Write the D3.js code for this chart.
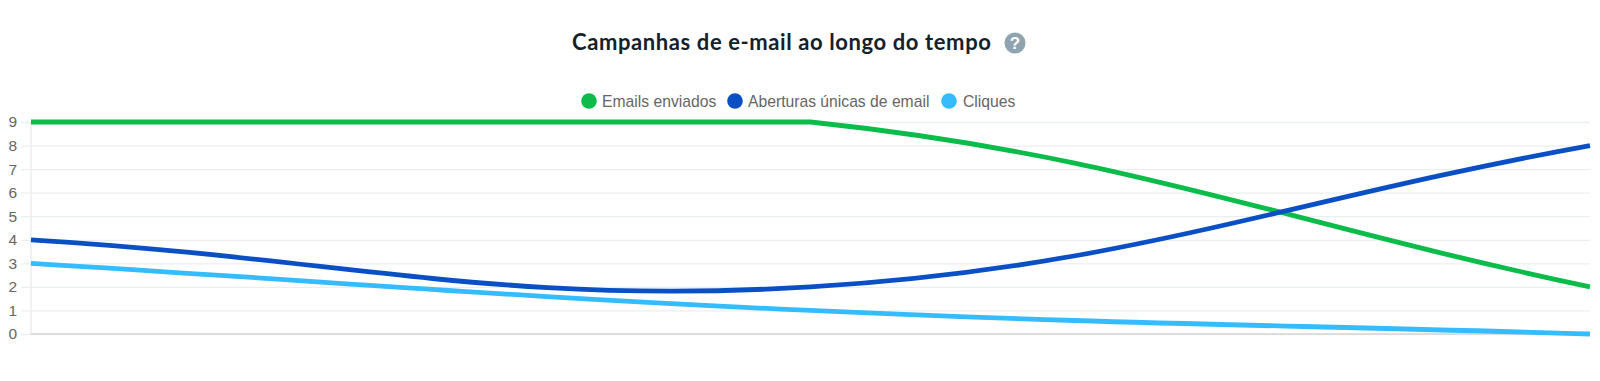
<!DOCTYPE html>
<html lang="pt">
<head>
<meta charset="utf-8">
<title>Campanhas de e-mail ao longo do tempo</title>
<script src="https://cdn.jsdelivr.net/npm/d3@7/dist/d3.min.js"></script>
<style>
  html, body { margin: 0; padding: 0; background: #fff; overflow: hidden; }
  svg { display: block; }
</style>
</head>
<body>
<div id="container"></div>
<script>
// The reference hides its x labels, so the periods only serve as positions
const periods = [ 'inicio', 'meio', 'fim' ];
const yTicks = [ 0, 1, 2, 3, 4, 5, 6, 7, 8, 9 ];

const seriesNames = [ 'Emails enviados', 'Aberturas únicas de email', 'Cliques' ];
const emailsSent = [ 9, 9, 2 ];
const uniqueOpens = [ 4, 2, 8 ];
const clicks = [ 3, 1, 0 ];
const seriesValues = [ emailsSent, uniqueOpens, clicks ];
const seriesColors = [ '#0cbc4b', '#0a50c4', '#35bcff' ];

const titleText = 'Campanhas de e-mail ao longo do tempo';

//_____ LAYOUT _____
const width = 1600;
const height = 381;
const plot = { left: 31, right: 1590, top: 122, bottom: 334 };
const legendY = 101;
const legendItems = [ { dot: 589, label: 602 }, { dot: 735, label: 748 }, { dot: 949, label: 963 } ];
const tension = 0.4;

const svg = d3.select( '#container' )
  .append( 'svg' )
  .attr( 'width', width )
  .attr( 'height', height );

//_____ SCALES _____
const xScale = d3.scalePoint()
  .domain( periods )
  .range( [ plot.left, plot.right ] );

const yScale = d3.scaleLinear()
  .domain( [ 0, 9 ] )
  .range( [ plot.bottom, plot.top ] );

//_____ CURVE _____
// Spline with its control points held inside the plot area, this gives the
// flat green stretch and the kink at the middle point
function clampedSpline ( context ) {
  let points = [];
  const clampX = x => Math.min( plot.right, Math.max( plot.left, x ) );
  const clampY = y => Math.min( plot.bottom, Math.max( plot.top, y ) );
  return {
    lineStart () { points = []; },
    point ( x, y ) { points.push( [ +x, +y ] ); },
    lineEnd () {
      const controls = points.map( ( p, i ) => {
        const prev = points[ i - 1 ] || p;
        const next = points[ i + 1 ] || p;
        const d01 = Math.hypot( p[ 0 ] - prev[ 0 ], p[ 1 ] - prev[ 1 ] );
        const d12 = Math.hypot( next[ 0 ] - p[ 0 ], next[ 1 ] - p[ 1 ] );
        const total = d01 + d12 || 1;
        const fa = tension * d01 / total;
        const fb = tension * d12 / total;
        const dx = next[ 0 ] - prev[ 0 ];
        const dy = next[ 1 ] - prev[ 1 ];
        return {
          before: [ clampX( p[ 0 ] - fa * dx ), clampY( p[ 1 ] - fa * dy ) ],
          after: [ clampX( p[ 0 ] + fb * dx ), clampY( p[ 1 ] + fb * dy ) ]
        };
      } );
      points.forEach( ( p, i ) => {
        if ( i === 0 ) {
          context.moveTo( p[ 0 ], p[ 1 ] );
        } else {
          const c1 = controls[ i - 1 ].after;
          const c2 = controls[ i ].before;
          context.bezierCurveTo( c1[ 0 ], c1[ 1 ], c2[ 0 ], c2[ 1 ], p[ 0 ], p[ 1 ] );
        }
      } );
    }
  };
}

//_____ GRID AND AXES _____
const yAxis = d3.axisLeft( yScale )
  .tickValues( yTicks )
  .tickSize( plot.right - plot.left + 10 )
  .tickPadding( 4 )
  .tickFormat( d3.format( 'd' ) );

const yAxisGroup = svg.append( 'g' )
  .attr( 'transform', `translate( ${plot.right}, 0 )` )
  .call( yAxis );

yAxisGroup.select( '.domain' ).remove();
yAxisGroup.selectAll( '.tick line' )
  .attr( 'stroke', '#ecefef' )
  .attr( 'stroke-width', 1.3 );
yAxisGroup.selectAll( '.tick text' )
  .attr( 'fill', '#666' )
  .style( 'font-family', '"Liberation Sans", Arial, sans-serif' )
  .style( 'font-size', '15.5px' );

// Zero line of the value axis and the base line
svg.append( 'line' )
  .attr( 'x1', plot.left ).attr( 'x2', plot.left )
  .attr( 'y1', plot.top ).attr( 'y2', plot.bottom )
  .attr( 'stroke', '#e8ebeb' )
  .attr( 'stroke-width', 1.3 );

svg.append( 'line' )
  .attr( 'x1', plot.left ).attr( 'x2', plot.right )
  .attr( 'y1', yScale( 0 ) ).attr( 'y2', yScale( 0 ) )
  .attr( 'stroke', '#d4d4d4' )
  .attr( 'stroke-width', 1.3 );

//_____ LINES _____
const line = d3.line()
  .x( ( d, i ) => xScale( periods[ i ] ) )
  .y( d => yScale( d ) )
  .curve( clampedSpline );

svg.selectAll( '.series' )
  .data( seriesValues )
  .enter().append( 'path' )
  .attr( 'class', 'series' )
  .attr( 'd', line )
  .attr( 'fill', 'none' )
  .attr( 'stroke', ( d, i ) => seriesColors[ i ] )
  .attr( 'stroke-width', 4.8 );

//_____ TITLE _____
svg.append( 'text' )
  .attr( 'x', 572 )
  .attr( 'y', 50 )
  .attr( 'fill', '#14212b' )
  .style( 'font-family', 'Lato, sans-serif' )
  .style( 'font-size', '22px' )
  .style( 'font-weight', '700' )
  .style( 'letter-spacing', '0.6px' )
  .text( titleText );

svg.append( 'circle' )
  .attr( 'cx', 1015 )
  .attr( 'cy', 43 )
  .attr( 'r', 10.5 )
  .attr( 'fill', '#8fa3b0' );

svg.append( 'text' )
  .attr( 'x', 1015 )
  .attr( 'y', 49 )
  .attr( 'text-anchor', 'middle' )
  .attr( 'fill', '#fff' )
  .style( 'font-family', '"Liberation Sans", Arial, sans-serif' )
  .style( 'font-size', '17px' )
  .style( 'font-weight', '700' )
  .text( '?' );

//_____ LEGEND _____
const legend = svg.selectAll( '.legend-item' )
  .data( seriesNames )
  .enter().append( 'g' )
  .attr( 'class', 'legend-item' );

legend.append( 'circle' )
  .attr( 'cx', ( d, i ) => legendItems[ i ].dot )
  .attr( 'cy', legendY )
  .attr( 'r', 7.8 )
  .attr( 'fill', ( d, i ) => seriesColors[ i ] );

legend.append( 'text' )
  .attr( 'x', ( d, i ) => legendItems[ i ].label )
  .attr( 'y', legendY + 5.5 )
  .attr( 'fill', '#666' )
  .style( 'font-family', '"Liberation Sans", Arial, sans-serif' )
  .style( 'font-size', '15.7px' )
  .text( d => d );
</script>
</body>
</html>
